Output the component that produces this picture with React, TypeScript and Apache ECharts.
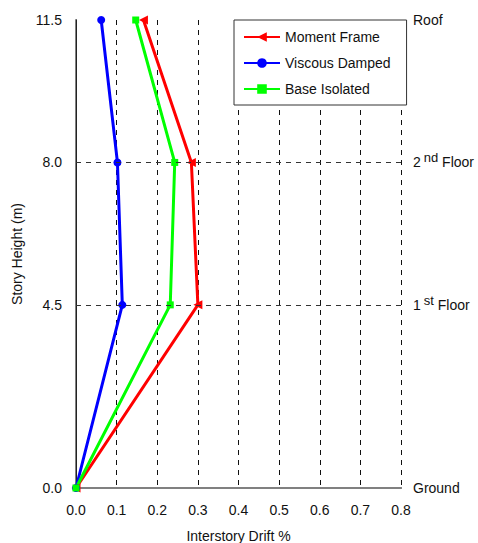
import React, { useEffect, useRef } from "react";
import * as echarts from "echarts";

const heights = [0, 4.5, 8.0, 11.5];
const momentFrame = [0, 0.3, 0.284, 0.166];
const viscousDamped = [0, 0.114, 0.102, 0.062];
const baseIsolated = [0, 0.232, 0.243, 0.147];
const leftTicks = [0, 4.5, 8.0, 11.5];
const floorLabels = ["Ground", "1{sup|st} Floor", "2{sup|nd} Floor", "Roof"];
const xTicks = [0, 0.1, 0.2, 0.3, 0.4, 0.5, 0.6, 0.7, 0.8];

const FONT = "'Liberation Sans', Arial, sans-serif";

export default function App() {
  const ref = useRef<HTMLDivElement>(null);
  useEffect(() => {
    document.body.style.margin = "0";
    const chart = echarts.init(ref.current!, null, { renderer: "svg" });
    const pts = (xs: number[]) => xs.map((x, i) => [x, heights[i]]);
    const findIdx = (v: number) => leftTicks.findIndex((t) => Math.abs(t - v) < 1e-6);
    chart.setOption({
      animation: false,
      textStyle: { fontFamily: FONT },
      grid: { left: 76, top: 20, width: 325, height: 468, outerBoundsMode: "none", containLabel: false },
      legend: {
        left: 234,
        top: 20,
        orient: "vertical",
        backgroundColor: "#fff",
        borderColor: "#333",
        borderWidth: 1,
        padding: [10, 16, 9, 9],
        itemGap: 12,
        itemWidth: 36,
        itemHeight: 12,
        textStyle: { fontSize: 14, color: "#111", fontFamily: FONT },
        data: ["Moment Frame", "Viscous Damped", "Base Isolated"],
      },
      xAxis: [
        {
          type: "value",
          min: 0,
          max: 0.8,
          interval: 0.1,
          position: "bottom",
          name: "Interstory Drift %",
          nameLocation: "middle",
          nameGap: 41,
          nameTextStyle: { fontSize: 14, color: "#111", fontFamily: FONT },
          axisLine: { lineStyle: { color: "#808080", width: 2 } },
          axisTick: { show: false },
          axisLabel: {
            fontSize: 14,
            color: "#111",
            margin: 15,
            formatter: (v: number) => {
              const t = xTicks.find((x) => Math.abs(x - v) < 1e-6);
              return t === undefined ? "" : t.toFixed(1);
            },
          },
          splitLine: {
            show: true,
            lineStyle: { color: "#111", type: [5, 5], width: 1 },
          },
        },
        {
          type: "value",
          min: 0,
          max: 0.8,
          position: "top",
          axisLine: { show: true, lineStyle: { color: "#808080", width: 2 } },
          axisTick: { show: false },
          axisLabel: { show: false },
          splitLine: { show: false },
        },
      ],
      yAxis: [
        {
          type: "value",
          min: 0,
          max: 11.5,
          interval: 0.5,
          position: "left",
          name: "Story Height (m)",
          nameLocation: "middle",
          nameGap: 52,
          nameTextStyle: { fontSize: 14, color: "#111", fontFamily: FONT },
          axisLine: { show: true, lineStyle: { color: "#808080", width: 2 } },
          axisTick: { show: false },
          splitLine: { show: false },
          axisLabel: {
            fontSize: 14,
            color: "#111",
            margin: 14,
            formatter: (v: number) => {
              const i = findIdx(v);
              return i < 0 ? "" : leftTicks[i].toFixed(1);
            },
          },
        },
        {
          type: "value",
          min: 0,
          max: 11.5,
          interval: 0.5,
          position: "right",
          axisLine: { show: true, lineStyle: { color: "#222", width: 1 } },
          axisTick: { show: false },
          splitLine: { show: false },
          axisLabel: {
            fontSize: 14,
            color: "#111",
            margin: 12,
            formatter: (v: number) => {
              const i = findIdx(v);
              return i < 0 ? "" : floorLabels[i];
            },
            rich: {
              sup: { fontSize: 13, color: "#111", padding: [0, 0, 9, 3], fontFamily: FONT },
            },
          },
        },
      ],
      series: [
        {
          name: "Moment Frame",
          type: "line",
          data: pts(momentFrame),
          color: "#ff0000",
          lineStyle: { width: 3, color: "#ff0000" },
          symbol: "triangle",
          symbolRotate: 90,
          symbolSize: 9,
          itemStyle: { color: "#ff0000" },
          z: 3,
          markLine: {
            silent: true,
            symbol: "none",
            label: { show: false },
            lineStyle: { color: "#333", type: [5, 5], width: 1 },
            data: [{ yAxis: 4.5 }, { yAxis: 8.0 }],
          },
        },
        {
          name: "Viscous Damped",
          type: "line",
          data: pts(viscousDamped),
          color: "#0000ff",
          lineStyle: { width: 3, color: "#0000ff" },
          symbol: "circle",
          symbolSize: 8,
          itemStyle: { color: "#0000ff" },
          z: 3,
        },
        {
          name: "Base Isolated",
          type: "line",
          data: pts(baseIsolated),
          color: "#00ff00",
          lineStyle: { width: 3, color: "#00ff00" },
          symbol: "rect",
          symbolSize: 7,
          itemStyle: { color: "#00ff00" },
          z: 3,
        },
      ],
    });
    return () => chart.dispose();
  }, []);
  return <div ref={ref} style={{ width: 478, height: 543 }} />;
}
